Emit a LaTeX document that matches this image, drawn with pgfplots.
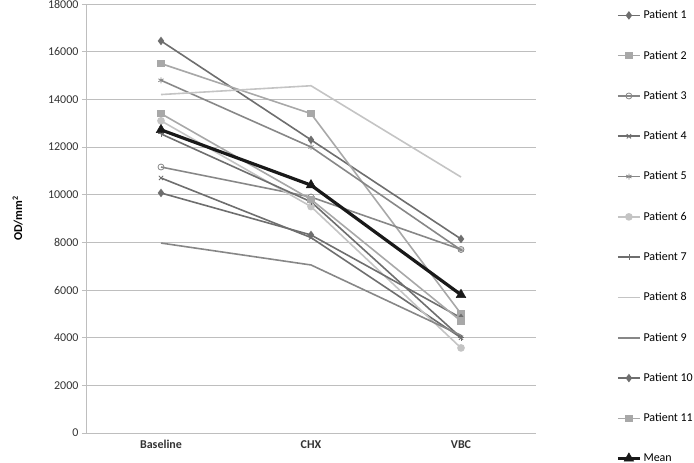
\documentclass[border=0pt]{standalone}
\usepackage{pgfplots}
\pgfplotsset{compat=1.18}
\usepackage{fontspec}
\setmainfont{Carlito}

\definecolor{gdark}{HTML}{6E6E6E}
\definecolor{gmid}{HTML}{878787}
\definecolor{glight}{HTML}{A8A8A8}
\definecolor{gpale}{HTML}{C4C4C4}
\definecolor{gridc}{HTML}{BEBEBE}

\begin{document}
\begin{tikzpicture}
\begin{axis}[
    scale only axis,
    width=450pt, height=429pt,
    xmin=-0.5, xmax=2.5,
    ymin=0, ymax=18000,
    xtick={0,1,2},
    xticklabels={\textbf{Baseline},\textbf{CHX},\textbf{VBC}},
    ytick={0,2000,...,18000},
    scaled y ticks=false,
    /pgf/number format/assume math mode=true,
    /pgf/number format/1000 sep={},
    ticklabel style={font=\fontsize{12}{14}\selectfont, text=black!80},
    ymajorgrids,
    grid style={gridc, line width=0.8pt},
    axis x line*=bottom,
    axis y line*=left,
    axis line style={gridc, line width=0.8pt},
    x axis line style={-},
    y axis line style={-},
    major tick length=4pt,
    xtick style={draw=none},
    ytick style={gridc, line width=0.8pt},
    tick align=outside,
    ylabel={\textbf{OD/mm\textsuperscript{2}}},
    ylabel style={at={(axis description cs:-0.152,0.5)}, anchor=center, font=\fontsize{12}{14}\selectfont},
    legend style={at={(1.178,0.99)}, anchor=north west, draw=none, fill=none,
        font=\fontsize{12}{14}\selectfont, row sep=26.5pt, inner sep=0pt},
    legend cell align=left,
    legend image code/.code={
        \draw[mark repeat=2,mark phase=2,#1] plot coordinates {(0pt,0pt) (11pt,0pt) (22pt,0pt)};
    },
    every axis plot/.append style={line width=1.6pt, mark size=3pt},
]
% Patient 1
\addplot[gdark, mark=diamond*, mark options={fill=gdark}] coordinates {(0,16450) (1,12300) (2,8140)};
\addlegendentry{Patient 1}
% Patient 2
\addplot[glight, mark=square*, mark options={fill=glight}] coordinates {(0,15500) (1,13400) (2,5000)};
\addlegendentry{Patient 2}
% Patient 3
\addplot[gmid, mark=o, mark options={line width=0.8pt}] coordinates {(0,11160) (1,9900) (2,7700)};
\addlegendentry{Patient 3}
% Patient 4
\addplot[gdark, mark=x, mark options={line width=0.9pt}] coordinates {(0,10700) (1,8200) (2,4000)};
\addlegendentry{Patient 4}
% Patient 5
\addplot[gmid, mark=asterisk, mark options={line width=0.8pt}] coordinates {(0,14800) (1,12000) (2,7680)};
\addlegendentry{Patient 5}
% Patient 6
\addplot[gpale, mark=*, mark options={fill=gpale}] coordinates {(0,13100) (1,9500) (2,3570)};
\addlegendentry{Patient 6}
% Patient 7
\addplot[gdark, mark=+, mark options={line width=0.8pt}] coordinates {(0,12550) (1,9700) (2,4000)};
\addlegendentry{Patient 7}
% Patient 8
\addplot[gpale, no marks] coordinates {(0,14200) (1,14570) (2,10740)};
\addlegendentry{Patient 8}
% Patient 9
\addplot[gmid, no marks] coordinates {(0,7970) (1,7050) (2,4100)};
\addlegendentry{Patient 9}
% Patient 10
\addplot[gdark, mark=diamond*, mark options={fill=gdark}] coordinates {(0,10070) (1,8310) (2,4830)};
\addlegendentry{Patient 10}
% Patient 11
\addplot[glight, mark=square*, mark options={fill=glight}] coordinates {(0,13400) (1,9800) (2,4700)};
\addlegendentry{Patient 11}
% Mean
\addplot[black!90, line width=3.2pt, mark=triangle*, mark size=5.5pt, mark options={fill=black!90, line width=0.5pt}] coordinates {(0,12720) (1,10400) (2,5800)};
\addlegendentry{Mean}
\end{axis}
\pgfresetboundingbox
\path (-86pt,-30pt) rectangle (608pt,433pt);
\end{tikzpicture}
\end{document}
